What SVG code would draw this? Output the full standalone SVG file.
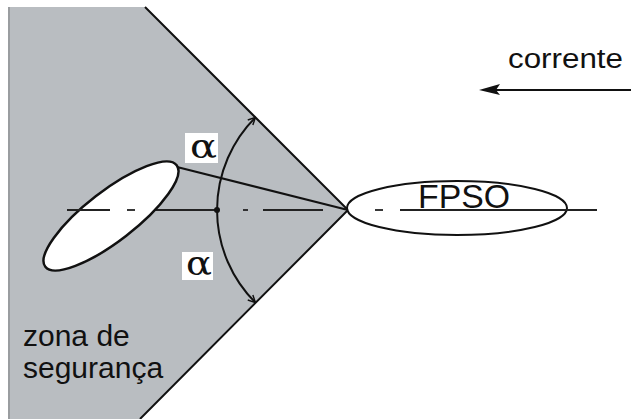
<svg xmlns="http://www.w3.org/2000/svg" width="631" height="419" viewBox="0 0 631 419">
<style>
.ln{stroke:#111;fill:none;stroke-width:2}
.cl{stroke:#222;fill:none;stroke-width:1.8}
.sans{font-family:"Liberation Sans",Arial,sans-serif;fill:#111}
.alpha{font-family:"DejaVu Serif","Liberation Serif",serif;fill:#111}
</style>
<defs>
<marker id="ah" viewBox="0 0 10 10" refX="9" refY="5" markerWidth="9" markerHeight="9" markerUnits="userSpaceOnUse" orient="auto-start-reverse">
<path d="M1,1 L9,5 L1,9" fill="none" stroke="#111" stroke-width="1.6"/>
</marker>
</defs>
<rect width="631" height="419" fill="#fff"/>
<g id="zona">
<polygon points="8,7 145,7 348,210 140,419 8,419" fill="#b9bdc1"/>
<line x1="9" y1="7" x2="9" y2="419" stroke="#9a9da0" stroke-width="2"/>
<polyline class="ln" points="145,7 348,210 140,419"/>
<text class="sans" font-size="30" x="23" y="346">zona de</text>
<text class="sans" font-size="30" x="23" y="378">segurança</text>
</g>
<g id="centerline">
<line class="cl" x1="155" y1="210" x2="217" y2="210"/>
<line class="cl" x1="243" y1="210" x2="248" y2="210"/>
<line class="cl" x1="263" y1="210" x2="323" y2="210"/>
</g>
<g id="navio">
<ellipse cx="111" cy="216" rx="83" ry="25" transform="rotate(-37.7 111 216)" fill="#fff" stroke="#111" stroke-width="2.5"/>
<line class="cl" x1="67" y1="210" x2="110" y2="210"/>
<line class="cl" x1="127" y1="210" x2="135" y2="210"/>
</g>
<g id="fpso">
<ellipse cx="457" cy="208" rx="110" ry="27" fill="#fff" stroke="#111" stroke-width="2"/>
<line class="cl" x1="375" y1="210" x2="383" y2="210"/>
<line class="cl" x1="400" y1="210" x2="597" y2="210"/>
<text class="sans" font-size="34" x="418" y="208" textLength="92" lengthAdjust="spacingAndGlyphs">FPSO</text>
</g>
<g id="connectors">
<line class="ln" x1="348" y1="210" x2="177" y2="167"/>
<path class="ln" d="M255.4,117.4 A131,131 0 0 0 255.4,302.6" stroke-width="1.8" marker-start="url(#ah)" marker-end="url(#ah)"/>
<circle cx="217" cy="210" r="3" fill="#111"/>
<line class="ln" x1="490" y1="90" x2="631" y2="90"/>
<path d="M479,90 L500,84 L496,90 L500,95 Z" fill="#111"/>
</g>
<g id="alfa1">
<rect x="185" y="133" width="33" height="30" fill="#fff"/>
<text class="alpha" font-size="34" x="190" y="158" textLength="27" lengthAdjust="spacingAndGlyphs">α</text>
</g>
<g id="alfa2">
<rect x="182" y="252" width="31" height="28" fill="#fff"/>
<text class="alpha" font-size="34" x="186" y="275" textLength="26" lengthAdjust="spacingAndGlyphs">α</text>
</g>
<g id="corrente">
<text class="sans" font-size="27" x="508" y="68" textLength="115" lengthAdjust="spacingAndGlyphs">corrente</text>
</g>
</svg>
